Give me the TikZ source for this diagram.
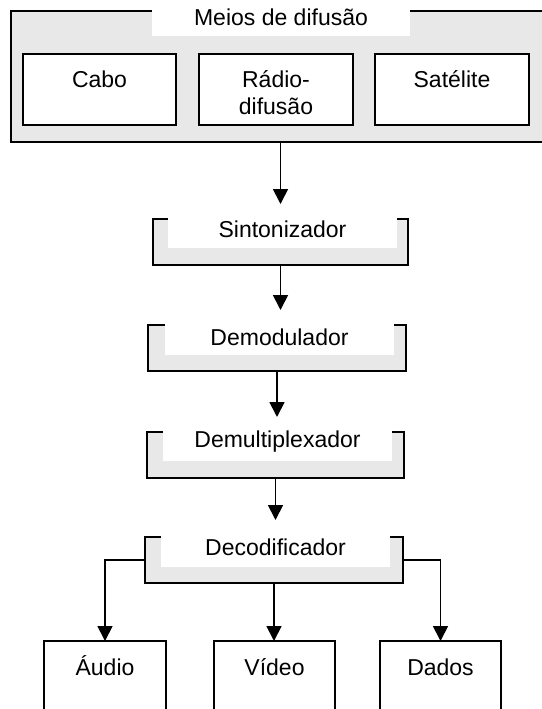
\documentclass[tikz,border=0pt]{standalone}
\usepackage{fontspec}
\setmainfont{Liberation Sans}
\usetikzlibrary{arrows.meta}
\definecolor{panelgray}{RGB}{232,232,232}
\begin{document}
\begin{tikzpicture}[x=1pt,y=-1pt,
  stroke/.style={line width=1.8pt},
  frame/.style={draw, stroke, fill=panelgray, inner sep=0pt, outer sep=0pt, anchor=north west},
  cell/.style={draw, stroke, fill=white, inner sep=0pt, outer sep=0pt, anchor=north west},
  tab/.style={fill=white, inner sep=0pt, outer sep=0pt, anchor=north west},
  txt/.style={font=\fontsize{23}{26}\selectfont, anchor=base, inner sep=0pt},
  arr/.style={stroke, -{Triangle[width=15pt,length=15pt]}}]
\useasboundingbox (0,0) rectangle (541,709);

% broadcast media panel
\node[frame, minimum width=540pt, minimum height=131pt] (meios) at (11,11) {};
\node[tab, minimum width=258pt, minimum height=28pt] (meiostab) at (152,8) {};
\node[txt] (meiostxt) at (281,26) {Meios de difusão};

\node[cell, minimum width=153pt, minimum height=71pt] (cabo) at (23,54) {};
\node[cell, minimum width=154pt, minimum height=71pt] (radio) at (199,54) {};
\node[cell, minimum width=154pt, minimum height=71pt] (sat) at (375,54) {};
\node[txt] (cabotxt) at (99.5,87) {Cabo};
\node[txt] (radiotxt1) at (276,88) {Rádio-};
\node[txt] (radiotxt2) at (276,114) {difusão};
\node[txt] (sattxt) at (452,87) {Satélite};

% receiver stages
\node[frame, minimum width=255pt, minimum height=46pt] (sint) at (153,219) {};
\node[tab, minimum width=229pt, minimum height=33pt] (sinttab) at (168,215) {};
\node[txt] (sinttxt) at (282.5,237) {Sintonizador};

\node[frame, minimum width=258pt, minimum height=46pt] (demod) at (148,325) {};
\node[tab, minimum width=229pt, minimum height=34pt] (demodtab) at (165,321) {};
\node[txt] (demodtxt) at (279.5,345) {Demodulador};

\node[frame, minimum width=257pt, minimum height=46pt] (demux) at (147,432) {};
\node[tab, minimum width=229pt, minimum height=33pt] (demuxtab) at (163,428) {};
\node[txt] (demuxtxt) at (277.5,447) {Demultiplexador};

\node[frame, minimum width=258pt, minimum height=46pt] (decod) at (145,537) {};
\node[tab, minimum width=229pt, minimum height=34pt] (decodtab) at (161,533) {};
\node[txt] (decodtxt) at (275.5,555) {Decodificador};

% outputs
\node[cell, minimum width=122pt, minimum height=90pt] (audio) at (44,641) {};
\node[cell, minimum width=121pt, minimum height=90pt] (video) at (214,641) {};
\node[cell, minimum width=121pt, minimum height=90pt] (dados) at (380,641) {};
\node[txt] (audiotxt) at (105,675) {Áudio};
\node[txt] (videotxt) at (274.5,675) {Vídeo};
\node[txt] (dadostxt) at (440.5,675) {Dados};

% signal flow
\draw[arr, shorten >=15pt] (meios.south -| sint.south) -- (sint.north);
\draw[arr, shorten >=15pt] (sint.south) -- (sint.south |- demod.north);
\draw[arr, shorten >=15pt] (demod.south) -- (demod.south |- demux.north);
\draw[arr, shorten >=17pt] (demux.south) -- (demux.south |- decod.north);
\draw[arr] (decod.west) -| (audio.north);
\draw[arr] (decod.south) -- (decod.south |- video.north);
\draw[arr] (decod.east) -| (dados.north);
\end{tikzpicture}
\end{document}
